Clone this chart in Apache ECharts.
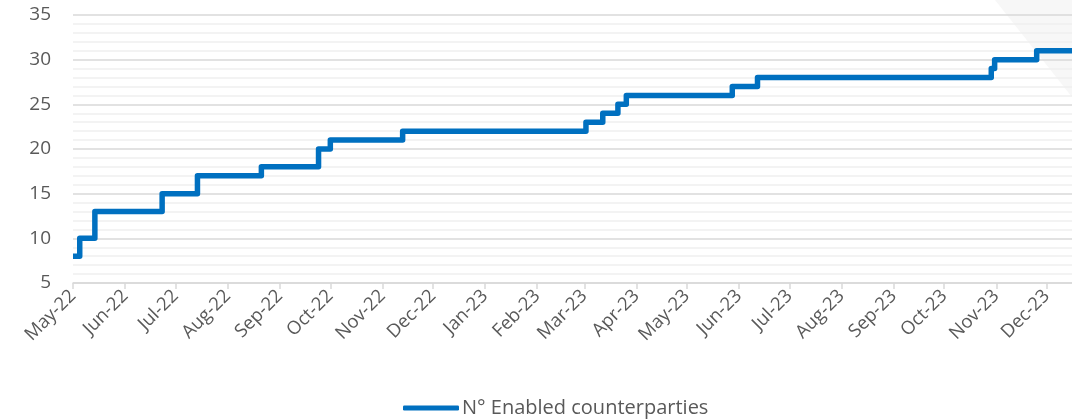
<!DOCTYPE html>
<html>
<head>
<meta charset="utf-8">
<script src="https://cdn.jsdelivr.net/npm/echarts@6/dist/echarts.min.js"></script>
<style>
  html, body { margin: 0; padding: 0; background: #fff; }
  #chart { width: 1072px; height: 420px; }
</style>
</head>
<body>
<div id="chart"></div>
<script>
// dates when the count changed, and the count from that day on
const stepDates = [
  '2022-05-01', '2022-05-05', '2022-05-14', '2022-06-23', '2022-07-14',
  '2022-08-21', '2022-09-24', '2022-10-01', '2022-11-13', '2023-03-02',
  '2023-03-12', '2023-03-21', '2023-03-26', '2023-05-28', '2023-06-12',
  '2023-10-29', '2023-10-31', '2023-11-25', '2023-12-16'
];
const counterparties = [
  8, 10, 13, 15, 17,
  18, 20, 21, 22, 23,
  24, 25, 26, 27, 28,
  29, 30, 31, 31
];
const seriesName = 'N° Enabled counterparties';
const textColor = '#595959';
const font = 'Open Sans';

const chart = echarts.init(document.getElementById('chart'));

const option = {
  animation: false,
  backgroundColor: '#fff',
  textStyle: { fontFamily: font },
  graphic: [{
    type: 'polygon',
    z: -10,
    silent: true,
    shape: { points: [[995, 0], [1072, 0], [1072, 97]] },
    style: { fill: '#f7f7f7' }
  }],
  grid: { left: 73, right: 0, top: 15, bottom: 137 },
  legend: {
    bottom: -3,
    left: 398,
    itemWidth: 56,
    itemHeight: 5,
    itemGap: 4,
    icon: 'roundRect',
    textStyle: { color: textColor, fontSize: 20, fontFamily: font, padding: [0, 0, 0, -2] },
    data: [seriesName]
  },
  xAxis: {
    type: 'time',
    min: '2022-05-01',
    max: '2023-12-16',
    splitNumber: 20,
    axisLine: { lineStyle: { color: '#d9d9d9', width: 1.5 } },
    axisTick: { show: true, length: 6, lineStyle: { color: '#d9d9d9', width: 1.5 } },
    splitLine: { show: false },
    axisLabel: {
      rotate: 45,
      color: textColor,
      fontSize: 18.5,
      fontFamily: font,
      margin: 10,
      formatter: '{MMM}-{yy}'
    }
  },
  yAxis: {
    type: 'value',
    min: 5,
    max: 35,
    interval: 5,
    axisLine: { show: false },
    axisTick: { show: false },
    axisLabel: { color: textColor, fontSize: 19, fontFamily: font, margin: 22 },
    splitLine: { lineStyle: { color: '#d9d9d9', width: 1.5 } },
    minorTick: { show: false, splitNumber: 5 },
    minorSplitLine: { show: true, lineStyle: { color: '#f0f0f0', width: 1.5 } }
  },
  series: [{
    name: seriesName,
    type: 'line',
    step: 'end',
    showSymbol: false,
    symbol: 'none',
    lineStyle: { color: '#0070c0', width: 5.5, join: 'round' },
    itemStyle: { color: '#0070c0' },
    data: stepDates.map((d, i) => [d, counterparties[i]])
  }]
};

chart.setOption(option);
</script>
</body>
</html>
